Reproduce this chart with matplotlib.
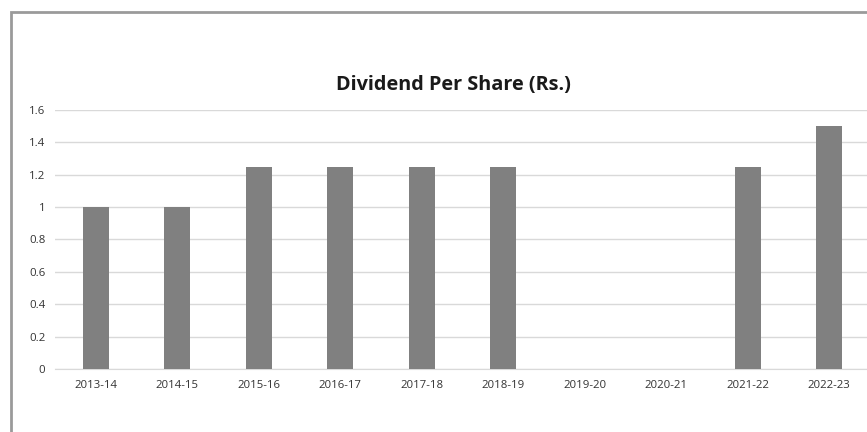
import matplotlib
matplotlib.use("Agg")
import matplotlib.pyplot as plt
from matplotlib.patches import Rectangle

years = ["2013-14", "2014-15", "2015-16", "2016-17", "2017-18", "2018-19",
         "2019-20", "2020-21", "2021-22", "2022-23"]
dividend = [1.0, 1.0, 1.25, 1.25, 1.25, 1.25, 0, 0, 1.25, 1.5]
yticks = [0, 0.2, 0.4, 0.6, 0.8, 1.0, 1.2, 1.4, 1.6]
ytick_labels = ["0", "0.2", "0.4", "0.6", "0.8", "1", "1.2", "1.4", "1.6"]

plt.rcParams['font.family'] = ['Open Sans', 'DejaVu Sans']

W, H = 867, 432
fig = plt.figure(figsize=(W / 100, H / 100), dpi=100)

ax = fig.add_axes([55 / W, 1 - 369 / H, (870 - 55) / W, (369 - 110) / H])
x = list(range(len(years)))
ax.bar(x, dividend, width=0.32, color="#808080", zorder=3)
ax.set_xlim(-0.5, len(years) - 0.5)
ax.set_ylim(0, 1.6)
ax.set_yticks(yticks)
ax.set_yticklabels(ytick_labels)
ax.set_xticks(x)
ax.set_xticklabels(years)
ax.grid(axis="y", color="#d9d9d9", linewidth=1, zorder=0)
for s in ["top", "right", "left"]:
    ax.spines[s].set_visible(False)
ax.spines["bottom"].set_color("#d9d9d9")
ax.tick_params(axis="both", length=0, labelsize=8.2, colors="#333333")
ax.tick_params(axis="y", pad=7)
ax.tick_params(axis="x", pad=8)

fig.text(453 / W, 1 - 85 / H, "Dividend Per Share (Rs.)", ha="center", va="center",
         fontsize=14.3, fontweight="bold", color="#1a1a1a")

border = Rectangle((10.5 / W, -0.1), 1.2, 1 - 11.5 / H + 0.1, transform=fig.transFigure,
                   fill=False, edgecolor="#9a9a9a", linewidth=2, clip_on=False)
fig.patches.append(border)

fig.savefig("out.png", dpi=100)
